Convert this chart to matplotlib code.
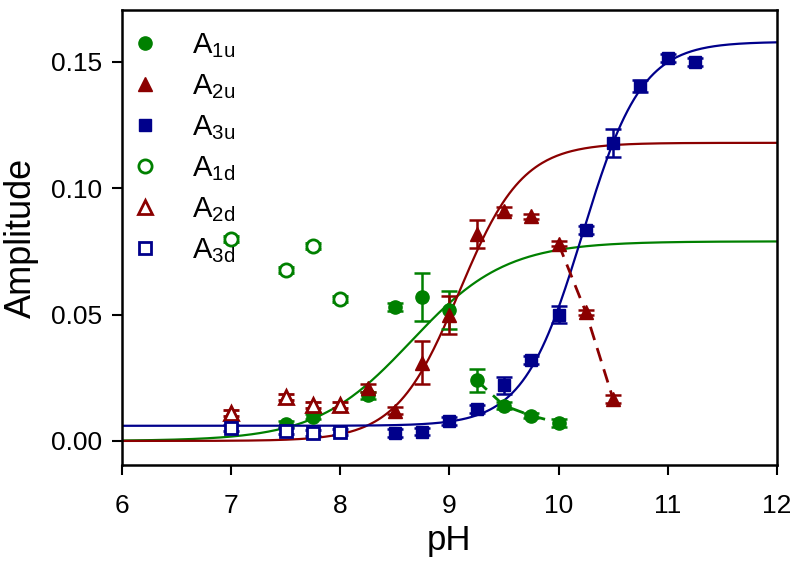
import numpy as np
import matplotlib
matplotlib.use("Agg")
import matplotlib.pyplot as plt

plt.rcParams["font.family"] = ["Liberation Sans", "DejaVu Sans"]
plt.rcParams["mathtext.fontset"] = "custom"
plt.rcParams["mathtext.rm"] = "Liberation Sans"

GREEN = "#008000"
RED = "#8b0000"
BLUE = "#00008b"

# titrating species (filled)
PH_1U = [7.5, 7.75, 8.25, 8.5, 8.75, 9.0, 9.25, 9.5, 9.75, 10.0]
A_1U = [0.0067, 0.0095, 0.018, 0.053, 0.057, 0.052, 0.024, 0.014, 0.010, 0.0072]
E_1U = [0.001, 0.001, 0.0015, 0.0015, 0.0095, 0.0075, 0.0045, 0.0015, 0.001, 0.0015]

PH_2U = [8.25, 8.5, 8.75, 9.0, 9.25, 9.5, 9.75, 10.0, 10.25, 10.5]
A_2U = [0.021, 0.012, 0.031, 0.050, 0.082, 0.091, 0.089, 0.078, 0.051, 0.0166]
E_2U = [0.0015, 0.0015, 0.0085, 0.0075, 0.0055, 0.0015, 0.001, 0.001, 0.001, 0.0015]

PH_3U = [8.5, 8.75, 9.0, 9.25, 9.5, 9.75, 10.0, 10.25, 10.5, 10.75, 11.0, 11.25]
A_3U = [0.0032, 0.0037, 0.008, 0.0127, 0.022, 0.032, 0.050, 0.0835, 0.118, 0.1405, 0.1515, 0.150]
E_3U = [0.0015, 0.0015, 0.0015, 0.0015, 0.0035, 0.0015, 0.0035, 0.0015, 0.0055, 0.0025, 0.0015, 0.0015]

# open symbols
PH_D = [7.0, 7.5, 7.75, 8.0]
A_1D = [0.0800, 0.0675, 0.0770, 0.0560]
A_2D = [0.0110, 0.0174, 0.0143, 0.0143]
A_3D = [0.0050, 0.0040, 0.0033, 0.0036]
E_D = [0.0012, 0.0012, 0.0012, 0.0012]

# Hill-type fit parameters: (baseline, plateau, pKa, n)
FIT_1 = (0.0, 0.079, 8.65, 1.0)
FIT_2 = (0.0, 0.118, 9.09, 1.5)
FIT_3 = (0.006, 0.158, 10.22, 1.6)


def hill(ph, base, top, pka, n):
    return base + (top - base) / (1.0 + 10 ** (n * (pka - ph)))


fig = plt.figure(figsize=(8.0, 5.67), dpi=100)
ax = fig.add_axes([0.1525, 0.18, 0.8185, 0.802])

ph = np.linspace(6, 12, 400)
ax.plot(ph, hill(ph, *FIT_1), color=GREEN, lw=1.6, zorder=2)
ax.plot(ph, hill(ph, *FIT_2), color=RED, lw=1.6, zorder=2)
ax.plot(ph, hill(ph, *FIT_3), color=BLUE, lw=1.6, zorder=2)

# dashed connectors on the falling side
ax.plot(PH_1U[6:], A_1U[6:], color=GREEN, lw=2, ls=(0, (5, 3)), zorder=2)
ax.plot(PH_2U[7:], A_2U[7:], color=RED, lw=2, ls=(0, (5, 3)), zorder=2)

eb = dict(ls="none", capsize=6, elinewidth=1.8, capthick=1.8, zorder=3)
ax.errorbar(PH_1U, A_1U, yerr=E_1U, fmt="o", color=GREEN, ms=9.5, label=r"A$_{\mathregular{1u}}$", **eb)
ax.errorbar(PH_2U, A_2U, yerr=E_2U, fmt="^", color=RED, ms=10, label=r"A$_{\mathregular{2u}}$", **eb)
ax.errorbar(PH_3U, A_3U, yerr=E_3U, fmt="s", color=BLUE, ms=8.5, label=r"A$_{\mathregular{3u}}$", **eb)
ax.errorbar(PH_D, A_1D, yerr=E_D, fmt="o", color=GREEN, mfc="white", mew=2, ms=9.5,
            label=r"A$_{\mathregular{1d}}$", **eb)
ax.errorbar(PH_D, A_2D, yerr=E_D, fmt="^", color=RED, mfc="white", mew=2, ms=10,
            label=r"A$_{\mathregular{2d}}$", **eb)
ax.errorbar(PH_D, A_3D, yerr=E_D, fmt="s", color=BLUE, mfc="white", mew=2, ms=8.5,
            label=r"A$_{\mathregular{3d}}$", **eb)

ax.set_xlim(6, 12)
ax.set_ylim(-0.0095, 0.1705)
ax.set_xticks(range(6, 13))
ax.set_yticks([0.0, 0.05, 0.10, 0.15])
ax.set_yticklabels(["0.00", "0.05", "0.10", "0.15"])
ax.tick_params(direction="out", length=7, width=1.5, labelsize=19,
               top=False, right=False)
ax.tick_params(axis="x", pad=14)
ax.tick_params(axis="y", pad=7)
for s in ax.spines.values():
    s.set_linewidth(1.8)

ax.set_xlabel("pH", fontsize=25, labelpad=4)
ax.set_ylabel("Amplitude", fontsize=26, labelpad=9)

handles, labels = ax.get_legend_handles_labels()
handles = [h[0] for h in handles]
ax.legend(handles, labels, loc="upper left", bbox_to_anchor=(0.0, 0.98),
          frameon=False, fontsize=21, handlelength=0.75, handletextpad=1.25,
          labelspacing=0.42, borderaxespad=0.0)

fig.savefig("out.png", dpi=100)
